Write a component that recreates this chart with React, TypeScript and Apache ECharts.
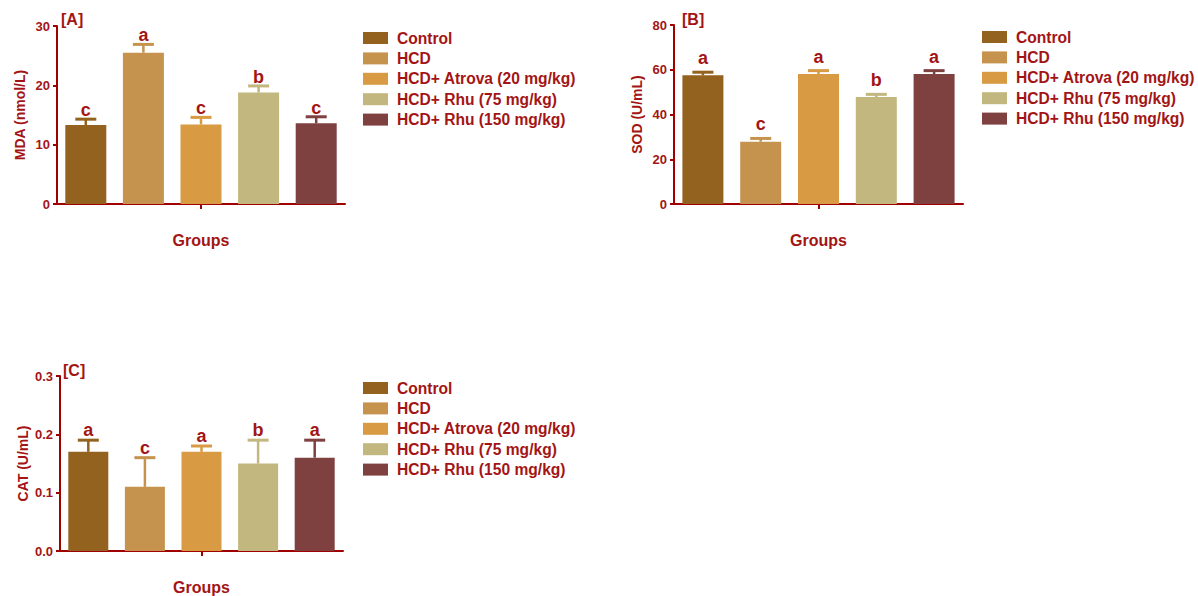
import React, { useEffect, useRef } from "react";
import * as echarts from "echarts";

const groups = [
  "Control",
  "HCD",
  "HCD+ Atrova (20 mg/kg)",
  "HCD+ Rhu (75 mg/kg)",
  "HCD+ Rhu (150 mg/kg)",
];
const barColors = ["#93621F", "#C6934F", "#D89A43", "#C2B77E", "#7F4040"];

const mdaMean = [13.3, 25.5, 13.4, 18.8, 13.6];
const mdaErr = [1.0, 1.4, 1.2, 1.1, 1.1];
const mdaLetters = ["c", "a", "c", "b", "c"];

const sodMean = [57.5, 27.8, 58.1, 47.8, 58.1];
const sodErr = [1.4, 1.5, 1.5, 1.2, 1.5];
const sodLetters = ["a", "c", "a", "b", "a"];

const catMean = [0.17, 0.11, 0.17, 0.15, 0.16];
const catErr = [0.02, 0.05, 0.01, 0.04, 0.03];
const catLetters = ["a", "c", "a", "b", "a"];

const yMaxA = 30, yStepA = 10;
const yMaxB = 80, yStepB = 20;
const yMaxC = 0.3, yStepC = 0.1;

const FONT = "'Liberation Sans', Arial, sans-serif";
const RED = "#A00000";
const TXT = "#A31515";

const panels = [
  {
    title: "[A]", yName: "MDA (nmol/L)", mean: mdaMean, err: mdaErr, letters: mdaLetters,
    max: yMaxA, step: yStepA, dec: 0,
    grid: { left: 57, top: 26, width: 288, height: 178 },
    titlePos: { left: 61, top: 11 }, legendPos: { left: 363, top: 30 }, letterGap: 0, barW: 41,
  },
  {
    title: "[B]", yName: "SOD (U/mL)", mean: sodMean, err: sodErr, letters: sodLetters,
    max: yMaxB, step: yStepB, dec: 0,
    grid: { left: 674, top: 25, width: 289, height: 179 },
    titlePos: { left: 682, top: 11 }, legendPos: { left: 982, top: 29 }, letterGap: 5, barW: 41,
  },
  {
    title: "[C]", yName: "CAT (U/mL)", mean: catMean, err: catErr, letters: catLetters,
    max: yMaxC, step: yStepC, dec: 1,
    grid: { left: 60, top: 376, width: 283, height: 178 },
    titlePos: { left: 63, top: 362 }, legendPos: { left: 363, top: 380 }, letterGap: 1, barW: 40,
  },
];

export default function App() {
  const ref = useRef<HTMLDivElement>(null);
  useEffect(() => {
    if (!ref.current) return;
    const chart = echarts.init(ref.current, undefined, { renderer: "svg" });
    const grid: any[] = [];
    const xAxis: any[] = [];
    const yAxis: any[] = [];
    const series: any[] = [];
    const legend: any[] = [];
    const title: any[] = [];
    panels.forEach((p, pi) => {
      grid.push({ ...p.grid, containLabel: false });
      xAxis.push({
        type: "category", gridIndex: pi, data: groups,
        axisLine: { show: true, lineStyle: { color: RED, width: 2 } },
        axisTick: { show: false }, axisLabel: { show: false },
        name: "Groups", nameLocation: "middle", nameGap: 28,
        nameTextStyle: { color: TXT, fontWeight: "bold", fontSize: 16, fontFamily: FONT },
      });
      xAxis.push({
        type: "category", gridIndex: pi, data: [""], position: "bottom",
        axisLine: { show: false },
        axisTick: { show: true, alignWithLabel: true, length: 5, lineStyle: { color: RED, width: 2 } },
        axisLabel: { show: false },
      });
      yAxis.push({
        type: "value", gridIndex: pi, min: 0, max: p.max, interval: p.step,
        axisLine: { show: true, lineStyle: { color: RED, width: 2 } },
        axisTick: { show: true, length: 4, lineStyle: { color: RED, width: 2 } },
        splitLine: { show: false },
        axisLabel: {
          color: TXT, fontWeight: "bold", fontSize: 13, fontFamily: FONT, margin: 7,
          formatter: (v: number) => v.toFixed(p.dec),
        },
        name: p.yName, nameLocation: "middle", nameGap: 30, nameRotate: 90,
        nameTextStyle: { color: TXT, fontWeight: "bold", fontSize: 14, fontFamily: FONT },
      });
      groups.forEach((g, i) => {
        series.push({
          type: "bar", name: g, xAxisIndex: pi * 2, yAxisIndex: pi,
          barWidth: p.barW, barGap: "-100%",
          itemStyle: { color: barColors[i] },
          data: p.mean.map((v, j) => (j === i ? v : "-")),
        });
      });
      series.push({
        type: "custom", xAxisIndex: pi * 2, yAxisIndex: pi, z: 5,
        data: p.mean.map((v, i) => [i, v, p.err[i], p.letters[i]]),
        renderItem: (params: any, api: any) => {
          const i = api.value(0);
          const m = api.value(1);
          const e = api.value(2);
          const idx = params.dataIndex;
          const letter = p.letters[idx];
          const top = api.coord([i, m + e]);
          const base = api.coord([i, m]);
          const c = barColors[idx];
          return {
            type: "group",
            children: [
              { type: "line", shape: { x1: top[0], y1: base[1], x2: top[0], y2: top[1] }, style: { stroke: c, lineWidth: 2.5 } },
              { type: "line", shape: { x1: top[0] - 10.5, y1: top[1], x2: top[0] + 10.5, y2: top[1] }, style: { stroke: c, lineWidth: 3 } },
              {
                type: "text", x: top[0], y: top[1] - p.letterGap,
                style: { text: letter, fill: TXT, font: `bold 18px ${FONT}`, align: "center", verticalAlign: "bottom" },
              },
            ],
          };
        },
      });
      legend.push({
        data: groups, ...p.legendPos, orient: "vertical", icon: "rect", padding: 0,
        itemWidth: 25, itemHeight: 12, itemGap: 4.4,
        textStyle: { color: TXT, fontWeight: "bold", fontSize: 15.6, fontFamily: FONT, padding: [0, 0, 0, 4] },
        selectedMode: false,
      });
      title.push({
        text: p.title, ...p.titlePos, padding: 0,
        textStyle: { color: TXT, fontWeight: "bold", fontSize: 16, fontFamily: FONT },
      });
    });
    chart.setOption({
      animation: false,
      color: barColors,
      title, legend, grid, xAxis, yAxis, series,
    });
    return () => chart.dispose();
  }, []);
  return (
    <div
      ref={ref}
      style={{ position: "absolute", left: 0, top: 0, width: 1198, height: 596, background: "#fff" }}
    />
  );
}
